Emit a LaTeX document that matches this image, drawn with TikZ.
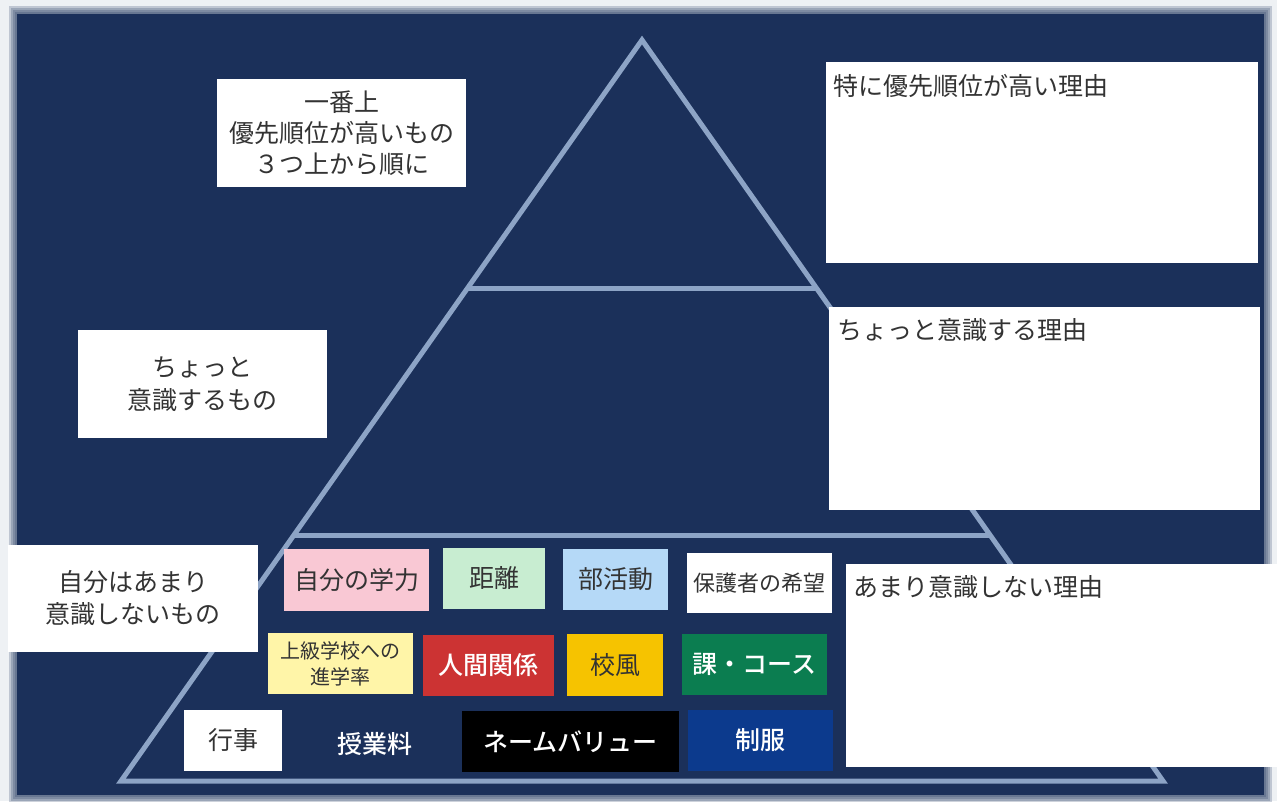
\documentclass[tikz,border=0pt]{standalone}
\usepackage{fontspec}
\setmainfont{Noto Sans CJK JP}[BoldFont={Noto Sans CJK JP Medium}]
\definecolor{bgnavy}{HTML}{1B305A}
\definecolor{pyr}{HTML}{8DA4C6}
\definecolor{outer}{HTML}{EEF1F4}
\definecolor{txt}{HTML}{333333}
\definecolor{cpink}{HTML}{F9C8D4}
\definecolor{cgreen}{HTML}{C8EDD1}
\definecolor{cblue}{HTML}{B5D9F7}
\definecolor{cyellow}{HTML}{FFF5A8}
\definecolor{cred}{HTML}{CC3333}
\definecolor{cgold}{HTML}{F6C300}
\definecolor{cdgreen}{HTML}{0B7D50}
\definecolor{cnavy}{HTML}{0C3A8D}
\tikzset{
  notebox/.style={fill=white, inner sep=0pt, align=center, text=txt,
    font=\fontsize{25}{31}\selectfont},
  reasonbox/.style={fill=white, inner sep=0pt},
  reasontext/.style={anchor=west, inner sep=0pt, text=txt, font=\fontsize{25}{28}\selectfont},
  item/.style={inner sep=0pt, align=center, text=txt, font=\fontsize{25}{28}\selectfont},
  itemw/.style={inner sep=0pt, align=center, text=white, font=\fontsize{25}{28}\selectfont\bfseries},
  pyrline/.style={draw=pyr, line width=5pt, line join=miter}
}
\begin{document}
\begin{tikzpicture}[x=1pt, y=-1pt]
\useasboundingbox (0,0) rectangle (1277,801);
\fill[outer] (0,0) rectangle (1277,801);
% soft edge of the board
\foreach \e in {8,6,4,2} {
  \fill[bgnavy, opacity=0.22] (17-\e,14-\e) rectangle (1264+\e,795+\e);
}
\fill[bgnavy] (17,14) rectangle (1264,795);

% pyramid
\coordinate (apex) at (642,40);
\coordinate (bl) at (121,781);
\coordinate (br) at (1163,781);
\coordinate (l1) at (467,288);
\coordinate (r1) at (817,288);
\coordinate (l2) at (294,535);
\coordinate (r2) at (990,535);
\draw[pyrline] (apex) -- (bl) -- (br) -- cycle;
\draw[pyrline] (l1) -- (r1);
\draw[pyrline] (l2) -- (r2);

% left notes
\node[notebox, minimum width=249pt, minimum height=108pt] (n1) at (341.5,133)
  {一番上\\優先順位が高いもの\\３つ上から順に};
\node[notebox, minimum width=249pt, minimum height=108pt, font=\fontsize{25}{33}\selectfont] (n2) at (202.5,384)
  {ちょっと\\意識するもの};
\node[notebox, minimum width=250pt, minimum height=107pt, font=\fontsize{25}{32}\selectfont] (n3) at (133,598.5)
  {自分はあまり\\意識しないもの};

% reason boxes
\node[reasonbox, minimum width=432pt, minimum height=201pt] (b1) at (1042,162.5) {};
\node[reasontext] (t1) at ([xshift=7pt, yshift=-24pt]b1.north west) {特に優先順位が高い理由};
\node[reasonbox, minimum width=431pt, minimum height=203pt] (b2) at (1044.5,408.5) {};
\node[reasontext] (t2) at ([xshift=8pt, yshift=-23pt]b2.north west) {ちょっと意識する理由};
\node[reasonbox, minimum width=431pt, minimum height=203pt] (b3) at (1061.5,665.5) {};
\node[reasontext] (t3) at ([xshift=7pt, yshift=-23pt]b3.north west) {あまり意識しない理由};

% items row 1
\node[item, fill=cpink, minimum width=145pt, minimum height=62pt] (gakuryoku) at (356.5,580) {自分の学力};
\node[item, fill=cgreen, minimum width=102pt, minimum height=61pt] (kyori) at (494,578.5) {距離};
\node[item, fill=cblue, minimum width=105pt, minimum height=61pt] (bukatsu) at (615.5,579.5) {部活動};
\node[item, fill=white, minimum width=145pt, minimum height=60pt, font=\fontsize{22}{26}\selectfont] (hogosha) at (759.5,583) {保護者の希望};
% items row 2
\node[item, fill=cyellow, minimum width=145pt, minimum height=61pt, font=\fontsize{20}{26}\selectfont] (shingaku) at (340.5,663.5) {上級学校への\\進学率};
\node[itemw, fill=cred, minimum width=131pt, minimum height=61pt] (ningen) at (488.5,665.5) {人間関係};
\node[item, fill=cgold, minimum width=96pt, minimum height=62pt] (koufuu) at (615,665) {校風};
\node[itemw, fill=cdgreen, minimum width=145pt, minimum height=61pt] (course) at (754.5,664.5) {課・コース};
% items row 3
\node[item, fill=white, minimum width=98pt, minimum height=61pt] (gyouji) at (233,740.5) {行事};
\node[itemw] (jugyou) at (375,744) {授業料};
\node[itemw, fill=black, minimum width=217pt, minimum height=61pt] (name) at (570.5,741.5) {ネームバリュー};
\node[itemw, fill=cnavy, minimum width=145pt, minimum height=61pt] (seifuku) at (760.5,740.5) {制服};
\end{tikzpicture}
\end{document}
